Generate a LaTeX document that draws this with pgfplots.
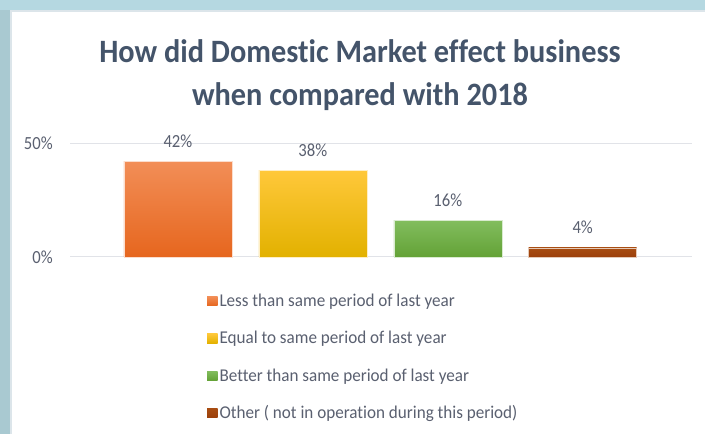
\documentclass[border=0pt]{standalone}
\usepackage{fontspec}
\setmainfont[Ligatures=NoCommon]{Carlito}
\usepackage{graphicx}
\usepackage{pgfplots}
\pgfplotsset{compat=1.18}
\definecolor{txt}{HTML}{5A6070}
\definecolor{ttl}{HTML}{44546A}
\definecolor{stripL}{HTML}{A9C9D1}
\definecolor{stripT}{HTML}{B5D8E1}
\definecolor{edgec}{HTML}{DCE5EA}
\definecolor{gridc}{HTML}{E1E3E8}
\definecolor{orT}{HTML}{F28E57}
\definecolor{orB}{HTML}{E6661E}
\definecolor{yeT}{HTML}{FFC83A}
\definecolor{yeM}{HTML}{FFC400}
\definecolor{yeB}{HTML}{E2B100}
\definecolor{grT}{HTML}{82BD5E}
\definecolor{grB}{HTML}{63A236}
\definecolor{brT}{HTML}{A84D12}
\definecolor{brB}{HTML}{9C400A}
\newcommand{\legtxt}[1]{\scalebox{0.95}[1]{#1}}
\begin{document}
\begin{tikzpicture}
\useasboundingbox (0,0) rectangle (705pt,434pt);
\fill[white] (0,0) rectangle (705pt,434pt);
\fill[stripL] (0,0) rectangle (10pt,434pt);
\fill[stripT] (0,424pt) rectangle (705pt,434pt);
\fill[edgec] (10pt,0) rectangle (12pt,424pt);
\fill[edgec] (10pt,422pt) rectangle (705pt,424pt);
\node[font=\fontsize{32.6}{40}\selectfont\bfseries, text=ttl, anchor=base, inner sep=0pt] at (360pt,371pt)
  {\scalebox{0.93}[1]{How did Domestic Market effect business}};
\node[font=\fontsize{32.6}{40}\selectfont\bfseries, text=ttl, anchor=base, inner sep=0pt] at (360pt,328pt)
  {\scalebox{0.93}[1]{when compared with 2018}};
\begin{axis}[
  at={(70pt,177pt)}, anchor=south west,
  scale only axis, width=622pt, height=114pt,
  ymin=0, ymax=50, xmin=-0.8, xmax=3.81,
  ytick={0,50}, xtick=\empty,
  axis line style={draw=none},
  ymajorgrids, grid style={gridc, line width=1pt},
  major tick length=0pt,
  /pgf/number format/assume math mode=true,
  yticklabel={\scalebox{0.9}[1]{\pgfmathprintnumber{\tick}\%}},
  yticklabel style={font=\fontsize{18.5}{22}\selectfont, text=txt, xshift=-13.7pt},
  ybar, bar width=0.8,
  clip=false,
  nodes near coords={\scalebox{0.9}[1]{\pgfmathprintnumber{\pgfplotspointmeta}\%}},
  every node near coord/.append style={font=\fontsize{18.5}{22}\selectfont, text=txt, anchor=base, inner sep=0pt, yshift=14pt},
  legend style={at={(0.22,-0.30)}, anchor=north west, draw=none, fill=none, inner sep=0pt,
     row sep=17.3pt, font=\fontsize{18}{21}\selectfont, text=txt,
     nodes={inner sep=2pt, text height=13pt, text depth=3pt}},
  legend cell align=left,
  legend image code/.code={\path[#1, draw=none] (0pt,-4.5pt) rectangle (10.5pt,5pt);},
]
\addplot[bar shift=0pt, top color=orT, bottom color=orB, draw=orT!30!white, line width=0.5pt] coordinates {(0,42)};
\addlegendentry{\legtxt{Less than same period of last year}}
\addplot[bar shift=0pt, top color=yeT, middle color=yeM, bottom color=yeB, draw=yeT!30!white, line width=0.5pt] coordinates {(1,38)};
\addlegendentry{\legtxt{Equal to same period of last year}}
\addplot[bar shift=0pt, top color=grT, bottom color=grB, draw=grT!30!white, line width=0.5pt] coordinates {(2,16)};
\addlegendentry{\legtxt{Better than same period of last year}}
\addplot[bar shift=0pt, top color=brT, bottom color=brB, draw=brT!30!white, line width=0.5pt] coordinates {(3,4)};
\addlegendentry{\legtxt{Other ( not in operation during this period)}}
\end{axis}
\end{tikzpicture}
\end{document}
